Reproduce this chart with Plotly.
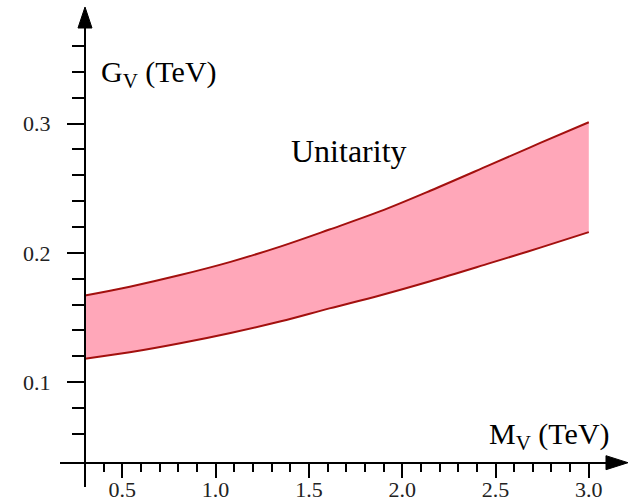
import plotly.graph_objects as go

# ---- data ----
M_V = [0.30, 0.54, 0.81, 1.08, 1.35, 1.61, 1.88, 2.15, 2.47, 2.74, 3.00]
G_upper = [0.167, 0.1738, 0.1828, 0.193, 0.205, 0.218, 0.232, 0.248, 0.268, 0.285, 0.301]
G_lower = [0.118, 0.123, 0.130, 0.138, 0.147, 0.157, 0.167, 0.178, 0.192, 0.204, 0.216]

x_tick_vals = [0.5, 1.0, 1.5, 2.0, 2.5, 3.0]
x_tick_text = ["0.5", "1.0", "1.5", "2.0", "2.5", "3.0"]
x_minor_vals = [0.4, 0.6, 0.7, 0.8, 0.9, 1.1, 1.2, 1.3, 1.4, 1.6, 1.7, 1.8, 1.9,
                2.1, 2.2, 2.3, 2.4, 2.6, 2.7, 2.8, 2.9]
y_tick_vals = [0.1, 0.2, 0.3]
y_tick_text = ["0.1", "0.2", "0.3"]
y_minor_vals = [0.06, 0.08, 0.12, 0.14, 0.16, 0.18, 0.22, 0.24, 0.26, 0.28,
                0.32, 0.34, 0.36]

# ---- layout geometry (pixels) ----
W, H = 635, 501
X0_PX, X_SCALE = 29.0, 186.6        # pixel of M=0, pixels per TeV
Y02_PX, Y_SCALE = 252.8, 1292.5     # pixel of G=0.2, pixels per TeV


def m_of_px(px):
    return (px - X0_PX) / X_SCALE


def g_of_py(py):
    return 0.2 + (Y02_PX - py) / Y_SCALE


x_left_px, x_right_px = 60, 607      # x-axis line extent
y_bottom_px, y_top_px = 487, 27      # y-axis line extent
xaxis_py = 462.7
yaxis_px = 85

FONT = "Liberation Serif"
LINE_COL = "#a3100e"
FILL_COL = "#ffa7b9"

fig = go.Figure()
fig.add_trace(go.Scatter(x=M_V, y=G_lower, mode="lines",
                         line=dict(color=LINE_COL, width=2, shape="spline"),
                         showlegend=False, hoverinfo="skip"))
fig.add_trace(go.Scatter(x=M_V, y=G_upper, mode="lines", fill="tonexty",
                         fillcolor=FILL_COL,
                         line=dict(color=LINE_COL, width=2, shape="spline"),
                         showlegend=False, hoverinfo="skip"))

fig.update_layout(
    width=W, height=H,
    margin=dict(l=0, r=0, t=0, b=0, pad=0, autoexpand=False),
    paper_bgcolor="white", plot_bgcolor="white",
    font=dict(family=FONT, color="black"),
    xaxis=dict(
        domain=[x_left_px / W, x_right_px / W],
        range=[m_of_px(x_left_px), m_of_px(x_right_px)],
        anchor="free", position=1 - xaxis_py / H, automargin=False,
        showline=True, linecolor="black", linewidth=2,
        showgrid=False, zeroline=False,
        tickmode="array", tickvals=x_tick_vals, ticktext=x_tick_text,
        ticks="outside", ticklen=14, tickwidth=2, tickcolor="black",
        ticklabelstandoff=-7,
        tickfont=dict(family=FONT, size=22, color="#222"),
        minor=dict(tickmode="array", tickvals=x_minor_vals, ticks="outside",
                   ticklen=8, tickwidth=2, tickcolor="black", showgrid=False),
    ),
    yaxis=dict(
        domain=[1 - y_bottom_px / H, 1 - y_top_px / H],
        range=[g_of_py(y_bottom_px), g_of_py(y_top_px)],
        anchor="free", position=yaxis_px / W, automargin=False,
        showline=True, linecolor="black", linewidth=2,
        showgrid=False, zeroline=False,
        tickmode="array", tickvals=y_tick_vals, ticktext=y_tick_text,
        ticks="outside", ticklen=17, tickwidth=2, tickcolor="black",
        ticklabelstandoff=12,
        tickfont=dict(family=FONT, size=22, color="#222"),
        minor=dict(tickmode="array", tickvals=y_minor_vals, ticks="outside",
                   ticklen=12, tickwidth=2, tickcolor="black", showgrid=False),
    ),
)


def P(px, py):
    return f"{px / W:.5f},{1 - py / H:.5f}"


# arrow heads
fig.add_shape(type="path", xref="paper", yref="paper",
              path=f"M{P(yaxis_px, 7)} L{P(yaxis_px - 7, 28)} L{P(yaxis_px + 7, 28)} Z",
              fillcolor="black", line=dict(color="black", width=1))
fig.add_shape(type="path", xref="paper", yref="paper",
              path=f"M{P(628, xaxis_py)} L{P(606, xaxis_py - 7)} L{P(606, xaxis_py + 7)} Z",
              fillcolor="black", line=dict(color="black", width=1))

# axis titles and label
fig.add_annotation(xref="paper", yref="paper", x=99 / W, y=1 - 74 / H,
                   xanchor="left", yanchor="middle", showarrow=False,
                   text="G<sub>V</sub> (TeV)", font=dict(family=FONT, size=30))
fig.add_annotation(xref="paper", yref="paper", x=612 / W, y=1 - 436 / H,
                   xanchor="right", yanchor="middle", showarrow=False,
                   text="M<sub>V</sub> (TeV)", font=dict(family=FONT, size=30))
fig.add_annotation(x=m_of_px(349), y=g_of_py(151), showarrow=False,
                   text="Unitarity", font=dict(family=FONT, size=32))

fig.write_html("out.html",
               config={"displayModeBar": False, "staticPlot": True},
               post_script="document.body.style.margin='0';"
                           "document.body.style.overflow='hidden';")
